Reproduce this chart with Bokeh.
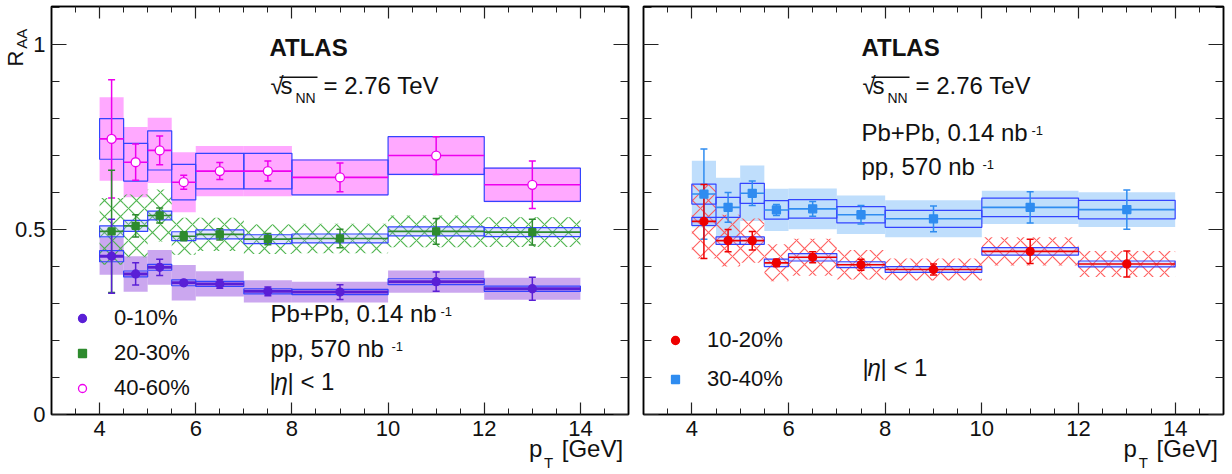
from bokeh.plotting import figure
from bokeh.models import (Range1d, LinearAxis, FixedTicker, Label, Legend, LegendItem,
                          Whisker, TeeHead, ColumnDataSource, BoxAnnotation, CustomLabelingPolicy)
from bokeh.layouts import row
from bokeh.embed import file_html
from bokeh.resources import INLINE

# ---------------- data ----------------
bin_lo = [4.0, 4.5, 5.0, 5.5, 6.0, 7.0, 8.0, 10.0, 12.0]
bin_hi = [4.5, 5.0, 5.5, 6.0, 7.0, 8.0, 10.0, 12.0, 14.0]
pt = [4.25, 4.75, 5.25, 5.75, 6.5, 7.5, 9.0, 11.0, 13.0]

raa_0_10 = [0.428, 0.380, 0.398, 0.356, 0.353, 0.333, 0.331, 0.359, 0.340]
stat_0_10 = [0.100, 0.030, 0.022, 0.006, 0.012, 0.012, 0.020, 0.026, 0.031]
sys_0_10 = [0.050, 0.048, 0.047, 0.048, 0.034, 0.030, 0.028, 0.030, 0.030]
box_0_10 = [0.015, 0.008, 0.008, 0.008, 0.007, 0.007, 0.007, 0.008, 0.007]

raa_20_30 = [0.495, 0.510, 0.538, 0.482, 0.487, 0.474, 0.476, 0.495, 0.493]
stat_20_30 = [0.165, 0.030, 0.020, 0.012, 0.015, 0.015, 0.025, 0.035, 0.035]
sys_20_30 = [0.090, 0.085, 0.070, 0.050, 0.045, 0.040, 0.040, 0.043, 0.040]
box_20_30 = [0.015, 0.015, 0.012, 0.012, 0.012, 0.012, 0.012, 0.012, 0.012]

raa_40_60 = [0.745, 0.682, 0.714, 0.628, 0.658, 0.658, 0.641, 0.700, 0.621]
stat_40_60 = [0.160, 0.049, 0.039, 0.019, 0.023, 0.027, 0.039, 0.051, 0.064]
sys_40_60 = [0.113, 0.095, 0.088, 0.081, 0.068, 0.068, 0.049, 0.053, 0.047]
box_40_60 = [0.055, 0.051, 0.053, 0.048, 0.048, 0.048, 0.047, 0.051, 0.045]

raa_10_20 = [0.522, 0.470, 0.470, 0.410, 0.425, 0.405, 0.392, 0.441, 0.407]
stat_10_20 = [0.100, 0.030, 0.025, 0.010, 0.015, 0.015, 0.015, 0.033, 0.035]
sys_10_20 = [0.100, 0.070, 0.060, 0.050, 0.050, 0.040, 0.030, 0.038, 0.035]
box_10_20 = [0.011, 0.010, 0.010, 0.010, 0.010, 0.008, 0.008, 0.010, 0.008]

raa_30_40 = [0.596, 0.560, 0.598, 0.553, 0.556, 0.540, 0.529, 0.560, 0.554]
stat_30_40 = [0.122, 0.040, 0.033, 0.015, 0.020, 0.025, 0.035, 0.042, 0.053]
sys_30_40 = [0.090, 0.080, 0.075, 0.057, 0.055, 0.052, 0.050, 0.045, 0.047]
box_30_40 = [0.027, 0.027, 0.027, 0.025, 0.025, 0.022, 0.023, 0.025, 0.025]

x_major_ticks = [4, 6, 8, 10, 12, 14]
x_minor_ticks = [3.5, 4, 4.5, 5, 5.5, 6, 6.5, 7, 7.5, 8, 8.5, 9, 9.5, 10,
                 10.5, 11, 11.5, 12, 12.5, 13, 13.5, 14, 14.5]
y_major_ticks = [0, 0.5, 1]
y_minor_ticks = [0.1, 0.2, 0.3, 0.4, 0.5, 0.6, 0.7, 0.8, 0.9, 1.0, 1.1]
y_tick_labels = {0: "0", 0.5: "0.5", 1: "1"}

# axis-title pieces, anchored at fixed axis positions (style, not data)
xtitle_main = {13.07: "p", 14.25: "[GeV]"}
xtitle_sub = {13.34: "T"}
ytitle_main = {0.962: "R"}
ytitle_sub = {1.016: "AA"}

FONT = "Liberation Sans"
BOX_BLUE = "#3344ff"

HIDE_CODE = """
try { for (const i of Array.from(indices)) { indices.unset(i) } } catch (e) {}
return indices
"""


def add_axis(p, side, ticks, minor, tin, tmin, labels):
    ax = LinearAxis(ticker=FixedTicker(ticks=ticks, minor_ticks=minor))
    ax.major_tick_in = tin
    ax.major_tick_out = 0
    ax.minor_tick_in = tmin
    ax.minor_tick_out = 0
    ax.axis_line_color = "black"
    ax.axis_line_width = 1.5
    ax.major_tick_line_color = "#222222"
    ax.minor_tick_line_color = "#222222"
    ax.major_tick_line_width = 1.2
    ax.minor_tick_line_width = 1.0
    if labels is None:
        ax.major_label_policy = CustomLabelingPolicy(code=HIDE_CODE)
        ax.major_label_text_font_size = "1px"
        ax.major_label_standoff = 0
    else:
        ax.major_label_text_font = FONT
        ax.major_label_text_font_size = "22px"
        ax.major_label_text_color = "#111111"
        ax.major_label_standoff = labels
    p.add_layout(ax, side)
    return ax


def add_title_axis(p, side, pieces, size, standoff, orientation="horizontal"):
    ticks = list(pieces.keys())
    ax = LinearAxis(ticker=FixedTicker(ticks=ticks, minor_ticks=[]),
                    major_label_overrides=dict(pieces))
    ax.axis_line_color = None
    ax.major_tick_line_color = None
    ax.minor_tick_line_color = None
    ax.major_tick_in = 0
    ax.major_tick_out = 0
    ax.minor_tick_in = 0
    ax.minor_tick_out = 0
    ax.major_label_text_font = FONT
    ax.major_label_text_font_size = f"{size}px"
    ax.major_label_text_color = "#111111"
    ax.major_label_standoff = standoff
    ax.major_label_orientation = orientation
    p.add_layout(ax, side)


def make_fig(width, bl, br, ylabels):
    p = figure(width=width, height=474, x_range=Range1d(3, 15), y_range=Range1d(0, 1.103),
               output_backend="svg", toolbar_location=None,
               min_border_left=bl, min_border_right=br, min_border_top=6, min_border_bottom=60,
               x_axis_location=None, y_axis_location=None)
    p.grid.visible = False
    p.outline_line_color = "black"
    p.outline_line_width = 1.5
    p.background_fill_color = "white"
    p.border_fill_color = "white"
    add_axis(p, "below", x_major_ticks, x_minor_ticks, 12, 6, 6)
    add_axis(p, "above", x_major_ticks, x_minor_ticks, 12, 6, None)
    ly = add_axis(p, "left", y_major_ticks, y_minor_ticks, 15, 8, 6 if ylabels else None)
    if ylabels:
        ly.major_label_overrides = y_tick_labels
    add_axis(p, "right", y_major_ticks, y_minor_ticks, 15, 8, None)
    add_title_axis(p, "below", xtitle_main, 24, -4)
    add_title_axis(p, "below", xtitle_sub, 15, -11)
    return p


def source(vals, stat, sysu, box):
    return ColumnDataSource(dict(
        lo=bin_lo, hi=bin_hi, x=pt, y=vals,
        slo=[v - s for v, s in zip(vals, sysu)], shi=[v + s for v, s in zip(vals, sysu)],
        blo=[v - b for v, b in zip(vals, box)], bhi=[v + b for v, b in zip(vals, box)],
        elo=[v - e for v, e in zip(vals, stat)], ehi=[v + e for v, e in zip(vals, stat)],
    ))


def draw_sys(p, src, fill=None, hatch=None):
    if fill is not None:
        p.quad(left="lo", right="hi", bottom="slo", top="shi", source=src,
               fill_color=fill, fill_alpha=0.75, line_alpha=0)
    if hatch is not None:
        p.quad(left="lo", right="hi", bottom="slo", top="shi", source=src,
               fill_alpha=0, line_alpha=0, hatch_pattern="diagonal_cross",
               hatch_color=hatch, hatch_scale=16, hatch_weight=1.2, hatch_alpha=0.9)


def draw_points(p, src, color, line_w, box_fill, marker, msize, mfill):
    p.quad(left="lo", right="hi", bottom="blo", top="bhi", source=src,
           fill_color=box_fill if box_fill else "white", fill_alpha=0.3 if box_fill else 0,
           line_color=BOX_BLUE, line_width=1.2)
    p.segment(x0="lo", x1="hi", y0="y", y1="y", source=src, line_color=color, line_width=line_w)
    w = Whisker(base="x", upper="ehi", lower="elo", source=src, line_color=color, line_width=1.5,
                upper_head=TeeHead(size=7, line_color=color, line_width=1.5),
                lower_head=TeeHead(size=7, line_color=color, line_width=1.5), level="annotation")
    p.add_layout(w)
    r = p.scatter(x="x", y="y", source=src, marker=marker, size=msize, fill_color=mfill,
                  line_color=color, line_width=1.3, level="overlay")
    return r


def txt(p, text, x, y, size=24, style="normal", **kw):
    p.add_layout(Label(x=x, y=y, x_units="screen", y_units="screen", text=text,
                       text_font=FONT, text_font_size=f"{size}px", text_font_style=style,
                       text_color="#111111", **kw))


def energy_block(p, x0, base):
    txt(p, "ATLAS", x0, base + 38, style="bold")
    txt(p, "\u221a", x0 + 1, base)
    txt(p, "s", x0 + 11, base)
    p.add_layout(BoxAnnotation(left=x0 + 10, right=x0 + 48, bottom=base + 20.5, top=base + 22,
                               left_units="screen", right_units="screen",
                               bottom_units="screen", top_units="screen",
                               fill_color="#111111", fill_alpha=1, line_alpha=0))
    txt(p, "NN", x0 + 26, base - 7, size=14)
    txt(p, "= 2.76 TeV", x0 + 54, base)


def lumi_lines(p, x0, b1, b2):
    txt(p, "Pb+Pb, 0.14 nb", x0, b1)
    txt(p, "-1", x0 + 170, b1 + 11, size=13)
    txt(p, "pp, 570 nb", x0, b2)
    txt(p, "-1", x0 + 121, b2 + 11, size=13)


def eta_line(p, x0, b):
    txt(p, "|", x0, b)
    txt(p, "\u03b7", x0 + 5, b, style="italic")
    txt(p, "| < 1", x0 + 18, b)


def make_legend(p, items, x, y, spacing):
    leg = Legend(items=[LegendItem(label=l, renderers=[r]) for l, r in items],
                 location=(x, y), orientation="vertical", padding=0, margin=0,
                 spacing=spacing, glyph_width=20, glyph_height=20, label_height=20,
                 label_standoff=22, label_text_font=FONT, label_text_font_size="22px",
                 label_text_color="#111111", border_line_alpha=0, background_fill_alpha=0)
    p.add_layout(leg)


# ---------------- left panel ----------------
pl = make_fig(636, 49, 8, True)
add_title_axis(pl, "left", ytitle_sub, 15, -19, "vertical")
add_title_axis(pl, "left", ytitle_main, 22, -18, "vertical")
s010 = source(raa_0_10, stat_0_10, sys_0_10, box_0_10)
s2030 = source(raa_20_30, stat_20_30, sys_20_30, box_20_30)
s4060 = source(raa_40_60, stat_40_60, sys_40_60, box_40_60)
draw_sys(pl, s010, fill="#b98ae9")
draw_sys(pl, s4060, fill="#ff8cff")
draw_sys(pl, s2030, hatch="#3fae3f")
r4060 = draw_points(pl, s4060, "#ee00ee", 1.6, None, "circle", 9, "white")
r2030 = draw_points(pl, s2030, "#2e8b2e", 1.6, "#9aa0ff", "square", 7, "#2e8b2e")
r010 = draw_points(pl, s010, "#5a1fd6", 3.0, None, "circle", 8, "#5a1fd6")
make_legend(pl, [("0-10%", r010), ("20-30%", r2030), ("40-60%", r4060)], 21, 13, 9)

energy_block(pl, 218, 316)
lumi_lines(pl, 219, 88, 53)
eta_line(pl, 218, 20)

# ---------------- right panel ----------------
pr = make_fig(596, 7, 9, False)
s1020 = source(raa_10_20, stat_10_20, sys_10_20, box_10_20)
s3040 = source(raa_30_40, stat_30_40, sys_30_40, box_30_40)
draw_sys(pr, s3040, fill="#a9d3fb")
draw_sys(pr, s1020, hatch="#ff5050")
r3040 = draw_points(pr, s3040, "#2f8cf0", 1.6, None, "square", 8, "#2f8cf0")
r1020 = draw_points(pr, s1020, "#ee0000", 1.6, "#9aa0ff", "circle", 8, "#ee0000")
make_legend(pr, [("10-20%", r1020), ("30-40%", r3040)], 22, 22, 13)

energy_block(pr, 218, 316)
lumi_lines(pr, 218, 269, 235)
eta_line(pr, 219, 34)

layout = row(pl, pr)
open("out.html", "w").write(file_html(layout, INLINE))
